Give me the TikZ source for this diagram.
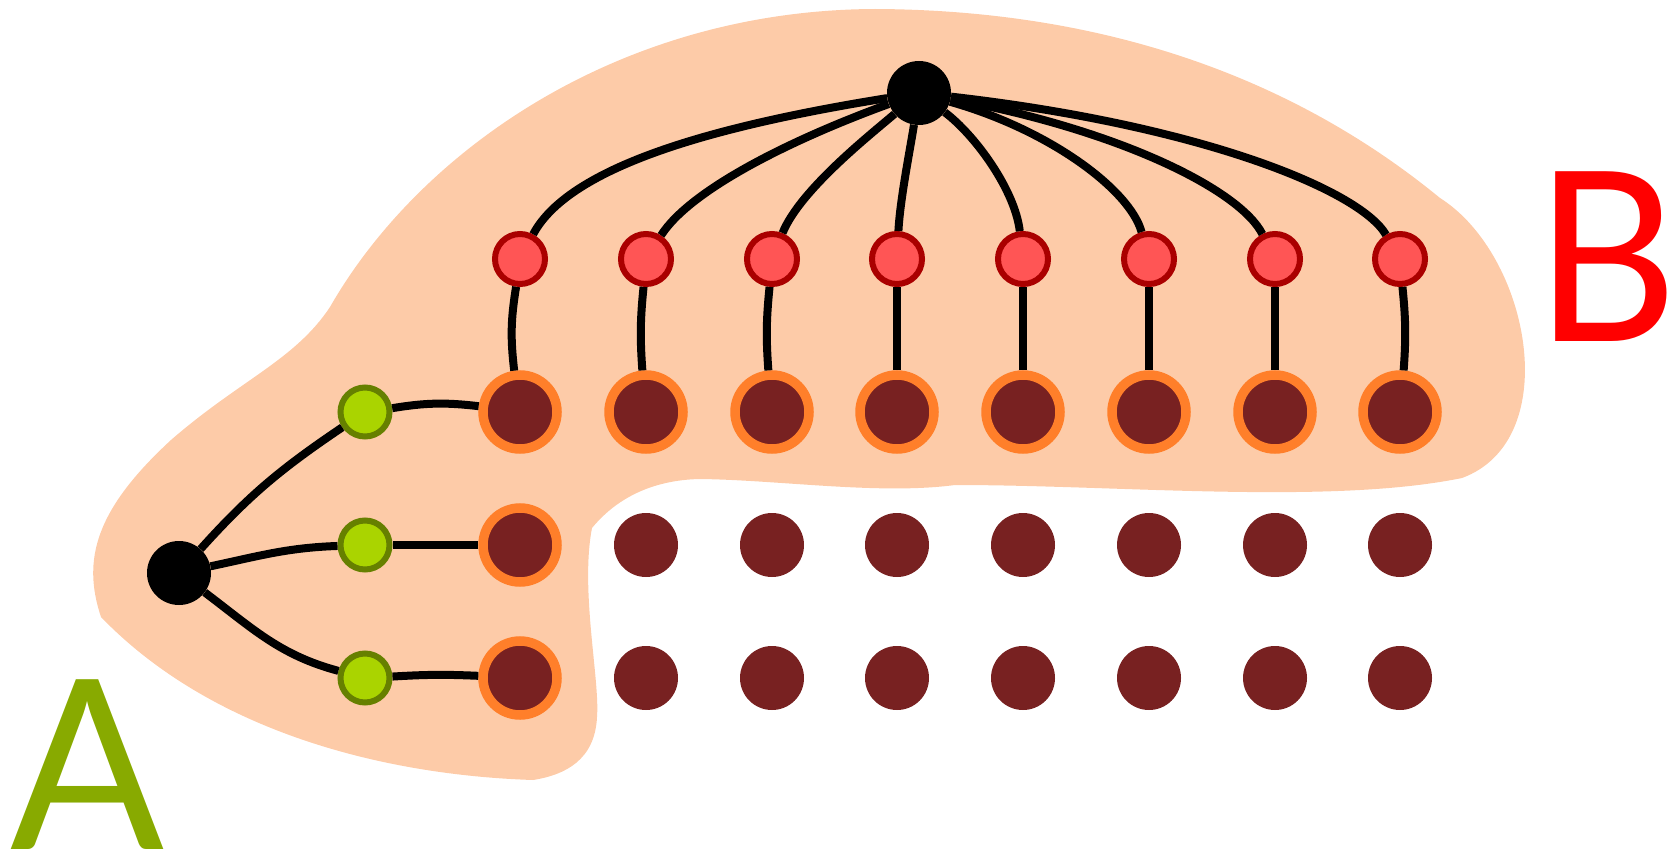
\documentclass[tikz,border=0pt]{standalone}
\usepackage{fontspec}
\newfontfamily\letterfont{Lato}
\definecolor{blobc}{HTML}{FDCBA8}
\definecolor{redf}{HTML}{FF5555}
\definecolor{redb}{HTML}{AA0000}
\definecolor{grnf}{HTML}{AAD400}
\definecolor{grnb}{HTML}{668000}
\definecolor{darkf}{HTML}{782121}
\definecolor{orng}{HTML}{FF7F2A}
\definecolor{lettA}{HTML}{88AA00}
\definecolor{lettB}{HTML}{FF0000}
\begin{document}
\begin{tikzpicture}[x=1pt,y=-1pt,
  edge/.style={line width=8pt},
  hub/.style={circle,fill=black,minimum size=64pt,inner sep=0pt},
  rednode/.style={circle,fill=redf,draw=redb,line width=6pt,minimum size=50pt,inner sep=0pt},
  grnnode/.style={circle,fill=grnf,draw=grnb,line width=6pt,minimum size=49pt,inner sep=0pt},
  bignode/.style={circle,fill=darkf,draw=orng,line width=9.5pt,minimum size=74pt,inner sep=0pt},
  darknode/.style={circle,fill=darkf,minimum size=64pt,inner sep=0pt},
  letter/.style={inner sep=0pt,font=\letterfont\fontsize{237}{237}\selectfont}
]
\useasboundingbox (0,0) rectangle (1676,856);
% blob
\fill[blobc] (101,617) .. controls (82,560) and (95,510) .. (171,440)
  .. controls (240,380) and (295,360) .. (330,307)
  .. controls (420,150) and (620,10) .. (875,9)
  .. controls (1100,10) and (1290,75) .. (1440,198)
  .. controls (1530,255) and (1565,440) .. (1462,478)
  .. controls (1330,505) and (1120,485) .. (955,485)
  .. controls (880,495) and (780,480) .. (700,479)
  .. controls (650,480) and (615,500) .. (592,528)
  .. controls (580,590) and (600,680) .. (597,717)
  .. controls (595,760) and (565,775) .. (533,780)
  .. controls (380,775) and (210,730) .. (101,617) -- cycle;
% hubs
\node[hub] (top) at (919,93) {};
\node[hub] (left) at (179,573) {};
% red row and big row
\foreach \i/\x in {1/520,2/646,3/772,4/897,5/1023,6/1149,7/1275,8/1400}{
  \node[rednode] (r\i) at (\x,259) {};
  \node[bignode] (b\i) at (\x,412) {};
}
% green
\node[grnnode] (g1) at (365,412) {};
\node[grnnode] (g2) at (365,545) {};
\node[grnnode] (g3) at (365,678) {};
\node[bignode] (c2) at (520,545) {};
\node[bignode] (c3) at (520,678) {};
\foreach \i/\x in {2/646,3/772,4/897,5/1023,6/1149,7/1275,8/1400}{
  \node[darknode] (d\i) at (\x,545) {};
  \node[darknode] (e\i) at (\x,678) {};
}
% edges top hub to red
\draw[edge] (top) .. controls (720,125) and (570,165) .. (r1);
\draw[edge] (top) .. controls (790,140) and (690,190) .. (r2);
\draw[edge] (top) .. controls (870,135) and (800,190) .. (r3);
\draw[edge] (top) .. controls (910,150) and (900,200) .. (r4);
\draw[edge] (top) .. controls (975,135) and (1015,190) .. (r5);
\draw[edge] (top) .. controls (1050,130) and (1130,190) .. (r6);
\draw[edge] (top) .. controls (1120,130) and (1240,190) .. (r7);
\draw[edge] (top) .. controls (1200,125) and (1360,190) .. (r8);
% red to big
\draw[edge] (r1) to[bend right=8] (b1);
\draw[edge] (r2) to[bend right=5] (b2);
\draw[edge] (r3) to[bend right=5] (b3);
\draw[edge] (r4) -- (b4);
\draw[edge] (r5) -- (b5);
\draw[edge] (r6) -- (b6);
\draw[edge] (r7) -- (b7);
\draw[edge] (r8) to[bend left=5] (b8);
% left hub to green
\draw[edge] (left) to[out=48,in=214] (g1);
\draw[edge] (left) to[out=12,in=182] (g2);
\draw[edge] (left) to[out=-37,in=165] (g3);
% green to big
\draw[edge] (g1) to[bend left=8] (b1);
\draw[edge] (g2) -- (c2);
\draw[edge] (g3) to[bend left=3] (c3);
% letters
\node[letter,text=lettA,anchor=base] (A) at (88,849) {\scalebox{0.96}[1]{A}};
\node[letter,text=lettB,anchor=base] (B) at (1607,341) {\scalebox{0.93}[1]{B}};
\end{tikzpicture}
\end{document}
